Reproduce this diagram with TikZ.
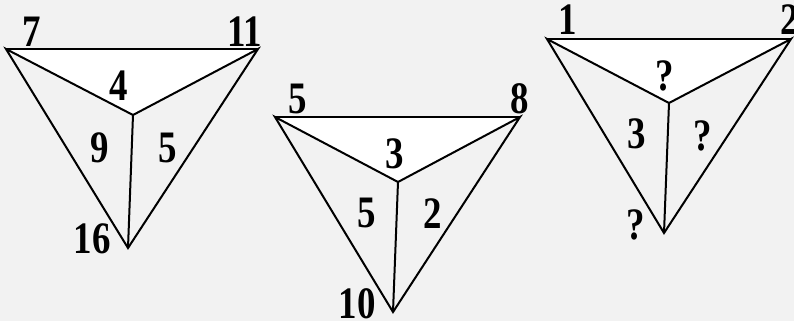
\documentclass[tikz,border=0pt]{standalone}
\usepackage{fontspec}
\setmainfont{Liberation Serif}
\newfontfamily\lblfont[FakeStretch=0.82]{Liberation Serif}
\definecolor{bgc}{HTML}{F2F2F2}
\begin{document}
\begin{tikzpicture}[x=1pt,y=-1pt,
  edge/.style={line width=2pt,line join=miter},
  topedge/.style={line width=2.8pt},
  lbl/.style={font=\lblfont\fontsize{45}{45}\selectfont\bfseries,anchor=base,inner sep=0pt}]
\fill[bgc] (0,0) rectangle (794,321);
\useasboundingbox (0,0) rectangle (794,321);
% figure 1
\coordinate (a1) at (6,49); \coordinate (b1) at (258,49);
\coordinate (c1) at (133,115); \coordinate (d1) at (128,248);
\fill[white] (a1) -- (b1) -- (c1) -- cycle;
\draw[edge] (a1) -- (c1) -- (b1) -- (d1) -- cycle;
\draw[edge] (c1) -- (d1);
\draw[topedge] (a1) -- (b1);
\node[lbl] (t1a) at (32,47) {7};
\node[lbl] (t1b) at (245,47) {11};
\node[lbl] (t1c) at (119,100) {4};
\node[lbl] (t1d) at (100,162) {9};
\node[lbl] (t1e) at (168,162) {5};
\node[lbl] (t1f) at (92,253) {16};
% figure 2
\coordinate (a2) at (275,117); \coordinate (b2) at (520,117);
\coordinate (c2) at (398,182); \coordinate (d2) at (393,312);
\fill[white] (a2) -- (b2) -- (c2) -- cycle;
\draw[edge] (a2) -- (c2) -- (b2) -- (d2) -- cycle;
\draw[edge] (c2) -- (d2);
\draw[topedge] (a2) -- (b2);
\node[lbl] (t2a) at (298,113) {5};
\node[lbl] (t2b) at (520,113) {8};
\node[lbl] (t2c) at (395,168) {3};
\node[lbl] (t2d) at (367,227) {5};
\node[lbl] (t2e) at (433,228) {2};
\node[lbl] (t2f) at (357,318) {10};
% figure 3
\coordinate (a3) at (547,39); \coordinate (b3) at (791,39);
\coordinate (c3) at (669,103); \coordinate (d3) at (664,233);
\fill[white] (a3) -- (b3) -- (c3) -- cycle;
\draw[edge] (a3) -- (c3) -- (b3) -- (d3) -- cycle;
\draw[edge] (c3) -- (d3);
\draw[topedge] (a3) -- (b3);
\node[lbl] (t3a) at (568,35) {1};
\node[lbl] (t3b) at (790,35) {2};
\node[lbl] (t3c) at (665,90) {?};
\node[lbl] (t3d) at (637,148) {3};
\node[lbl] (t3e) at (703,150) {?};
\node[lbl] (t3f) at (636,239) {?};
\end{tikzpicture}
\end{document}
